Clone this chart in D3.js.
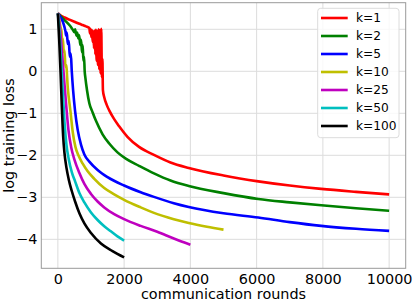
<!DOCTYPE html>
<html><head><meta charset="utf-8">
<script src="https://cdn.jsdelivr.net/npm/d3@7"></script>
<style>body{margin:0;background:#fff}svg{display:block}text{font-family:"DejaVu Sans",sans-serif}</style>
</head><body><svg id="c" width="415" height="305"></svg>
<script>
const labels = ["k=1","k=2","k=5","k=10","k=25","k=50","k=100"];
const colors = ["#ff0000","#008000","#0000ff","#bfbf00","#bf00bf","#00bfbf","#000000"];
const xTicks = [0,2000,4000,6000,8000,10000];
const yTicks = [-4,-3,-2,-1,0,1];

const k1 = [[0,1.38],[100,1.32],[200,1.28],[350,1.23],[500,1.18],[650,1.13],[750,1.10],[850,1.07],[950,1.03],
 [970,0.90],[990,1.00],[1010,0.82],[1030,0.98],[1050,0.70],[1070,0.95],[1090,0.55],[1110,0.97],[1130,0.40],
 [1150,0.99],[1170,0.25],[1190,0.96],[1210,0.15],[1230,1.00],[1250,0.05],[1270,0.98],[1290,-0.05],[1310,1.01],
 [1330,-0.15],[1345,0.30],[1360,-0.45],[1400,-0.62],[1475,-0.80],[1550,-0.93],[1700,-1.14],[1850,-1.31],
 [2100,-1.56],[2450,-1.80],[2900,-1.99],[3400,-2.17],[3950,-2.30],[5000,-2.48],[6050,-2.62],[7000,-2.72],
 [7950,-2.80],[9000,-2.87],[10000,-2.93]];
const k2 = [[0,1.38],[100,1.30],[200,1.22],[300,1.14],[400,1.05],[450,0.99],[500,0.93],[520,1.00],[560,0.85],
 [580,0.92],[620,0.78],[640,0.86],[680,0.62],[700,0.75],[730,0.45],[750,0.62],[770,0.25],[790,0.35],[810,0.0],
 [830,-0.15],[880,-0.45],[950,-0.76],[1050,-0.98],[1150,-1.18],[1350,-1.50],[1550,-1.72],[1800,-1.93],
 [2050,-2.08],[2450,-2.25],[2900,-2.43],[3400,-2.60],[3950,-2.73],[5000,-2.90],[6050,-3.04],[7000,-3.12],
 [7950,-3.19],[9000,-3.26],[10000,-3.32]];
const k5 = [[0,1.38],[80,1.28],[150,1.18],[200,1.05],[230,0.95],[250,0.85],[270,0.92],[300,0.65],[330,0.72],
 [360,0.35],[390,0.42],[420,0.0],[460,-0.45],[520,-0.95],[600,-1.40],[700,-1.75],[800,-1.98],[950,-2.15],
 [1200,-2.35],[1500,-2.52],[2000,-2.72],[2500,-2.88],[2900,-2.99],[3500,-3.14],[3950,-3.23],[5000,-3.38],
 [6050,-3.48],[7000,-3.59],[7950,-3.68],[9000,-3.75],[10000,-3.80]];
const k10 = [[0,1.38],[40,1.25],[80,1.05],[110,0.95],[130,0.70],[150,0.78],[180,0.45],[200,0.50],[230,0.10],
 [250,0.15],[300,-0.40],[380,-0.95],[450,-1.45],[530,-1.80],[620,-2.00],[750,-2.20],[900,-2.38],[1100,-2.56],
 [1400,-2.78],[1700,-2.93],[2000,-3.06],[2500,-3.24],[2900,-3.37],[3500,-3.52],[3950,-3.61],[4500,-3.70],[5000,-3.77]];
const k25 = [[0,1.38],[60,1.05],[120,0.50],[180,-0.10],[250,-0.80],[320,-1.40],[400,-1.80],[500,-2.10],
 [650,-2.42],[800,-2.68],[1000,-2.92],[1200,-3.10],[1400,-3.24],[1700,-3.40],[2000,-3.52],[2500,-3.68],
 [3000,-3.82],[3500,-3.98],[4000,-4.13]];
const k50 = [[0,1.38],[50,0.90],[100,0.20],[150,-0.50],[200,-1.20],[260,-1.75],[330,-2.10],[420,-2.40],
 [520,-2.62],[650,-2.90],[800,-3.12],[1000,-3.36],[1200,-3.54],[1400,-3.69],[1600,-3.81],[1800,-3.93],[2000,-4.03]];
const k100 = [[0,1.38],[40,0.75],[80,0.0],[120,-0.85],[160,-1.55],[200,-1.95],[260,-2.30],[330,-2.58],
 [420,-2.85],[520,-3.10],[650,-3.38],[800,-3.62],[1000,-3.85],[1300,-4.10],[1650,-4.28],[2000,-4.43]];
const series = [k1,k2,k5,k10,k25,k50,k100];

const L=41.3, R=405.7, T=2.7, B=268.3;
const svg = d3.select("#c");
const x = d3.scaleLinear().domain([-500,10500]).range([L,R]);
const y = d3.scaleLinear().domain([-4.69,1.633]).range([B,T]);

svg.append("g").selectAll("line").data(xTicks).join("line")
  .attr("x1",d=>x(d)).attr("x2",d=>x(d)).attr("y1",T).attr("y2",B)
  .attr("stroke","#dcdcdc").attr("stroke-width",1);
svg.append("g").selectAll("line").data(yTicks).join("line")
  .attr("y1",d=>y(d)).attr("y2",d=>y(d)).attr("x1",L).attr("x2",R)
  .attr("stroke","#dcdcdc").attr("stroke-width",1);

const line = d3.line().x(d=>x(d[0])).y(d=>y(d[1])).curve(d3.curveMonotoneX);
const g = svg.append("g");
series.forEach((s,i)=>{
  g.append("path").attr("d",line(s)).attr("fill","none").attr("stroke",colors[i])
   .attr("stroke-width",2.6).attr("stroke-linejoin","round").attr("stroke-linecap","butt");
});

const fmt = d3.format("d");
const xa = svg.append("g").attr("transform",`translate(0,${B})`)
  .call(d3.axisBottom(x).tickValues(xTicks).tickFormat(fmt).tickSize(0).tickPadding(5));
const ya = svg.append("g").attr("transform",`translate(${L},0)`)
  .call(d3.axisLeft(y).tickValues(yTicks).tickFormat(fmt).tickSize(0).tickPadding(4));
[xa,ya].forEach(a=>{a.select(".domain").remove();a.selectAll("text").attr("font-size",14.4).attr("fill","#000").attr("font-family","DejaVu Sans");});

svg.append("rect").attr("x",L).attr("y",T).attr("width",R-L).attr("height",B-T)
  .attr("fill","none").attr("stroke","#999").attr("stroke-width",1);

svg.append("text").attr("x",(L+R)/2).attr("y",299).attr("text-anchor","middle")
  .attr("font-size",14.4).text("communication rounds");
svg.append("text").attr("transform",`translate(14,${(T+B)/2}) rotate(-90)`).attr("text-anchor","middle")
  .attr("font-size",14.4).text("log training loss");

const lg = svg.append("g");
lg.append("rect").attr("x",317.7).attr("y",8.3).attr("width",81.3).attr("height",129.4).attr("rx",3)
  .attr("fill","#fff").attr("fill-opacity",0.8).attr("stroke","#dcdcdc").attr("stroke-width",1);
labels.forEach((lab,i)=>{
  const yy = 18 + i*18;
  lg.append("line").attr("x1",321).attr("x2",347.7).attr("y1",yy).attr("y2",yy)
    .attr("stroke",colors[i]).attr("stroke-width",2.6);
  lg.append("text").attr("x",356).attr("y",yy).attr("dy","0.36em").attr("font-size",12.2).text(lab);
});
</script></body></html>
